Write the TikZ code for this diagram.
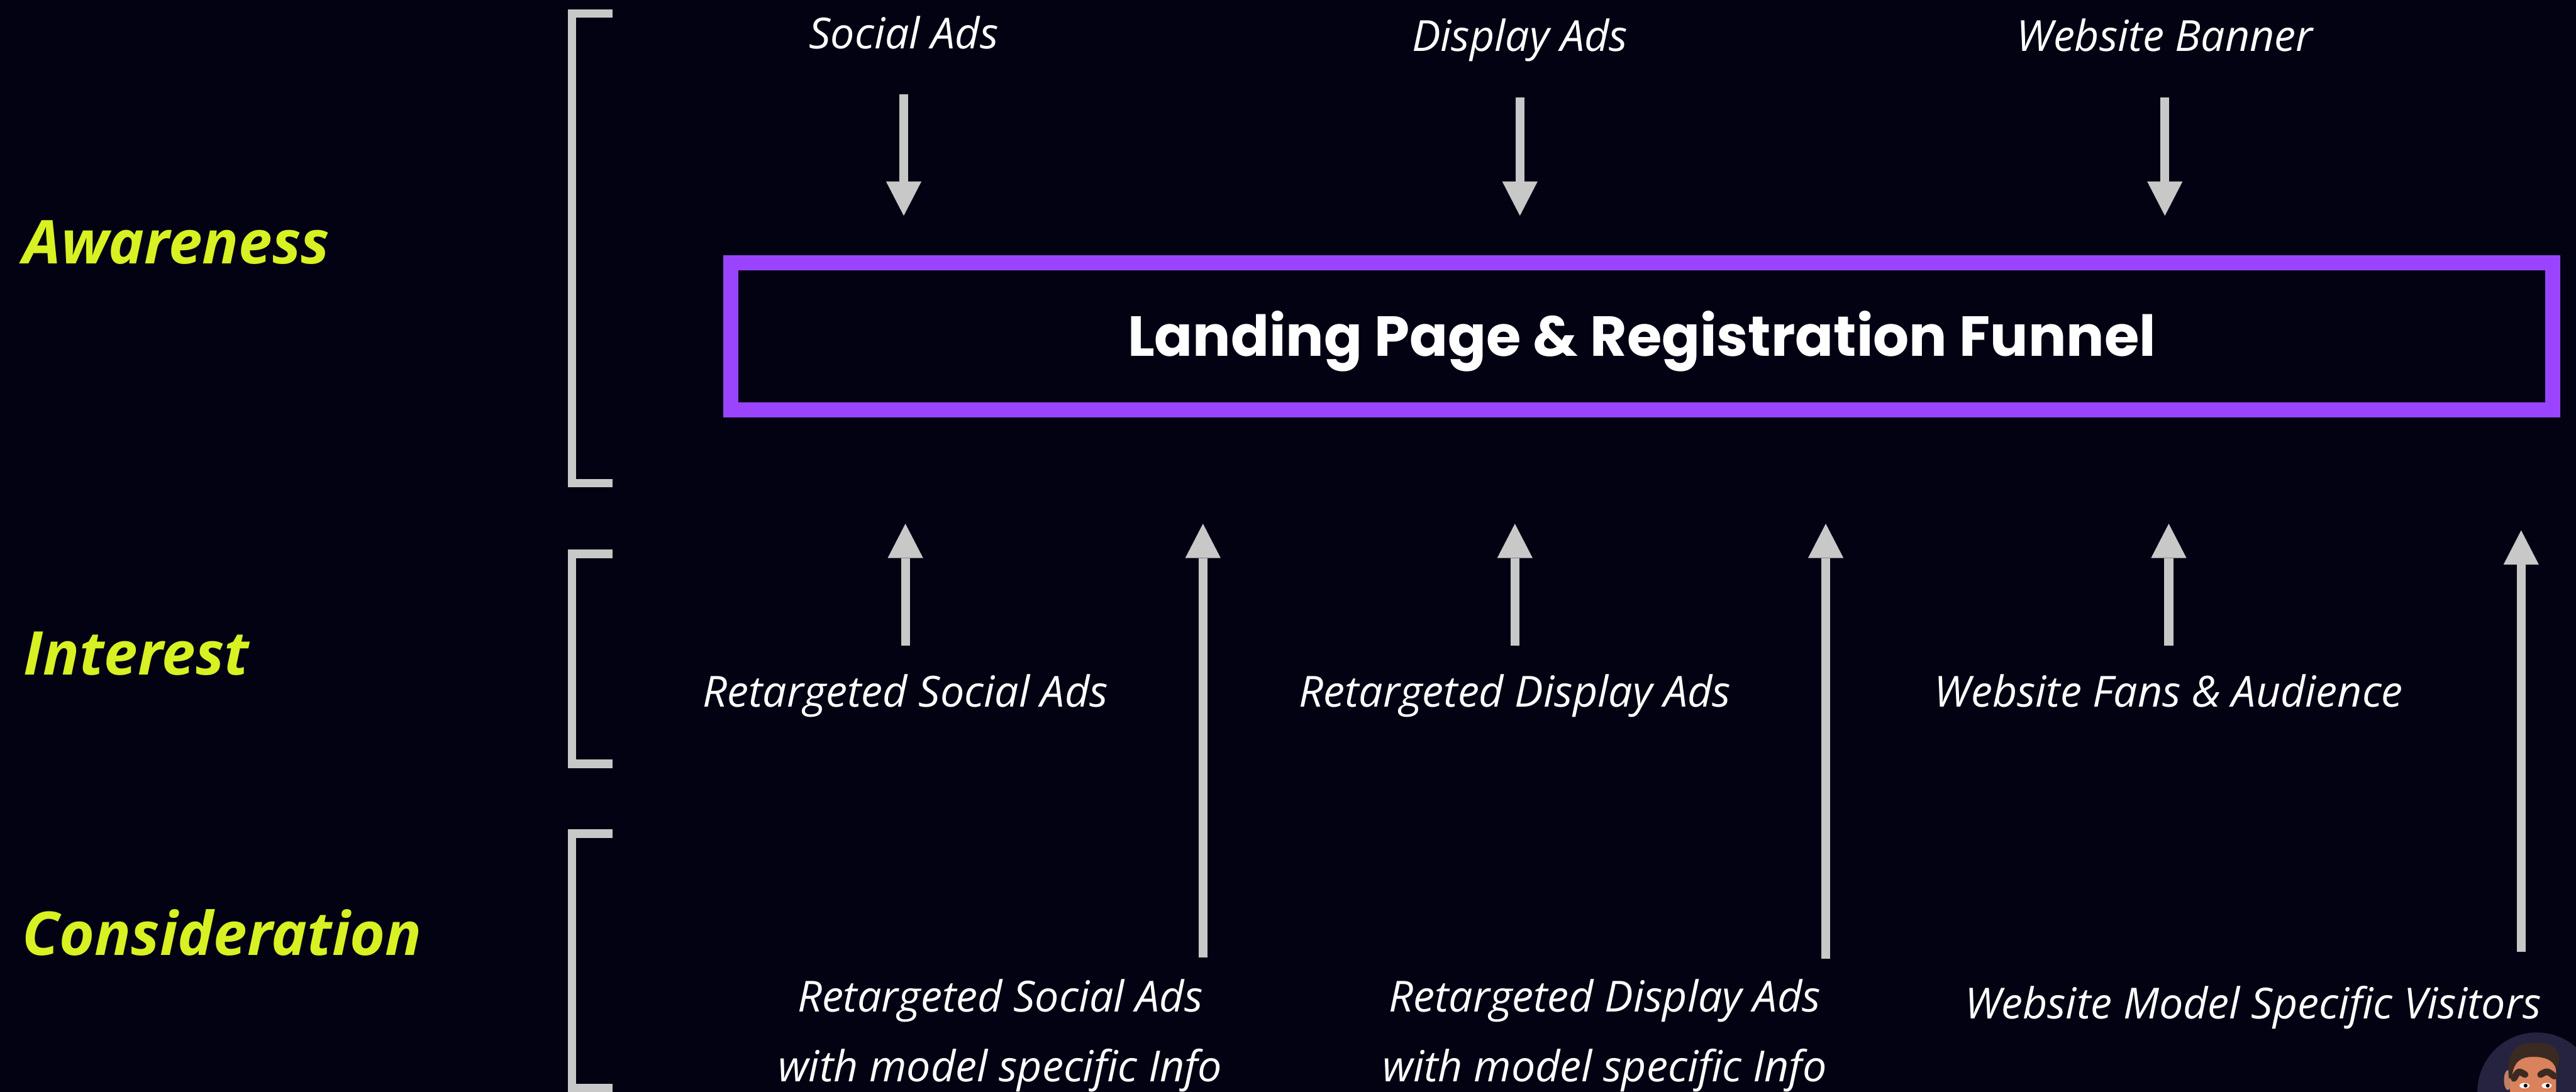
\documentclass[tikz,border=0pt]{standalone}
\usepackage{fontspec}
\setmainfont{Open Sans}
\newfontfamily\titlefont{Poppins}
\usepackage{tikz}
\usetikzlibrary{arrows.meta, positioning}

\definecolor{bgnavy}{HTML}{030213}
\definecolor{stagelime}{HTML}{D7F123}
\definecolor{funnelviolet}{HTML}{9A44FF}
\definecolor{arrowgray}{HTML}{C8C8C8}
\definecolor{avatarbg}{HTML}{25233F}
\definecolor{skin}{HTML}{D9825C}
\definecolor{hair}{HTML}{3B2A22}

\newcommand{\lblfont}{\fontsize{22}{35.8}\selectfont\itshape}
\newcommand{\stagefont}{\fontsize{31}{37}\selectfont\bfseries\itshape}

\begin{document}
\begin{tikzpicture}[>=Latex,
  stage/.style={anchor=base west, inner sep=0pt, text=stagelime, font=\stagefont},
  lbl/.style={anchor=base, inner sep=0pt, text=white, font=\lblfont, text height=5mm, text depth=2mm},
  lbltwo/.style={anchor=base, inner sep=0pt, text=white, font=\lblfont, align=center},
  funnel/.style={draw=funnelviolet, line width=2.7mm, minimum width=32.88cm, minimum height=2.66cm, inner sep=0pt,
    text=white, font=\titlefont\fontsize{29}{34}\selectfont\bfseries, text height=7.1mm, text depth=0mm},
  arr/.style={draw=arrowgray, line width=1.6mm, -{Triangle[width=6.4mm, length=6.2mm, line width=0pt]}},
  bracket/.style={draw=arrowgray, line width=1.5mm}]

  \useasboundingbox (0,0) rectangle (46.49,-19.71);
  \fill[bgnavy] (0,0) rectangle (46.49,-19.71);

  % funnel stages on the left
  \node[stage] (awareness) at (0.41,-4.76) {Awareness};
  \node[stage] (interest) at (0.42,-12.18) {Interest};
  \node[stage] (consideration) at (0.40,-17.25) {Consideration};

  \draw[bracket] (11.05,-0.24) -- (10.32,-0.24) -- (10.32,-8.72) -- (11.05,-8.72);
  \draw[bracket] (11.05,-10.00) -- (10.32,-10.00) -- (10.32,-13.79) -- (11.05,-13.79);
  \draw[bracket] (11.05,-15.05) -- (10.32,-15.05) -- (10.32,-19.64) -- (11.05,-19.64);

  \node[funnel] (lp) at (29.63,-6.07) {Landing Page \& Registration Funnel};

  % traffic sources
  \node[lbl] (social) at (16.31,-0.88) {Social Ads};
  \node[lbl] (display) at (27.43,-0.93) {Display Ads};
  \node[lbl] (banner) at (39.07,-0.93) {Website Banner};

  \node[lbl] (rsocial) at (16.34,-12.76) {Retargeted Social Ads};
  \node[lbl] (rdisplay) at (27.34,-12.76) {Retargeted Display Ads};
  \node[lbl] (fans) at (39.14,-12.76) {Website Fans \& Audience};

  % two-line labels sit on the baseline of their last line
  \node[lbltwo] (rsocialinfo) at (18.05,-19.53) {Retargeted Social Ads\\with model specific Info};
  \node[lbltwo] (rdisplayinfo) at (28.96,-19.53) {Retargeted Display Ads\\with model specific Info};
  \node[lbl] (visitors) at (40.66,-18.39) {Website Model Specific Visitors};

  \coordinate (rsocialtail) at (21.71,-17.29);
  \coordinate (rdisplaytail) at (32.95,-17.31);
  \coordinate (visitorstail) at (45.50,-17.18);

  \draw[arr, shorten <=6.2mm, shorten >=7.1mm] (social.south) -- (social.south |- lp.north);
  \draw[arr, shorten <=6.2mm, shorten >=7.1mm] (display.south) -- (display.south |- lp.north);
  \draw[arr, shorten <=6.2mm, shorten >=7.1mm] (banner.south) -- (banner.south |- lp.north);

  \draw[arr, shorten <=6mm, shorten >=19.2mm] (rsocial.north) -- (rsocial.north |- lp.south);
  \draw[arr, shorten <=6mm, shorten >=19.2mm] (rdisplay.north) -- (rdisplay.north |- lp.south);
  \draw[arr, shorten <=6mm, shorten >=19.2mm] (fans.north) -- (fans.north |- lp.south);

  \draw[arr, shorten >=19.2mm] (rsocialtail) -- (rsocialtail |- lp.south);
  \draw[arr, shorten >=19.2mm] (rdisplaytail) -- (rdisplaytail |- lp.south);
  \draw[arr, shorten >=20.4mm] (visitorstail) -- (visitorstail |- lp.south);

  % avatar in the corner
  \begin{scope}
    \clip (45.78,-19.71) circle (1.07);
    \fill[avatarbg] (45.78,-19.71) circle (1.07);
    \fill[skin!70!gray] (45.26,-19.50) ellipse (0.07 and 0.18);
    \fill[skin, rounded corners=3mm] (45.30,-20.60) rectangle (46.13,-19.05);
    \fill[hair] (45.28,-19.47) .. controls (45.22,-18.95) and (45.45,-18.80) .. (45.75,-18.83)
      .. controls (46.05,-18.80) and (46.22,-18.95) .. (46.18,-19.23)
      -- (46.13,-19.30) .. controls (46.08,-19.12) and (45.90,-19.08) .. (45.72,-19.08)
      .. controls (45.50,-19.08) and (45.36,-19.15) .. (45.33,-19.47) -- cycle;
    \draw[hair, line width=1.2mm, line cap=round] (45.37,-19.47) .. controls (45.45,-19.33) .. (45.57,-19.40);
    \draw[hair, line width=1.2mm, line cap=round] (45.85,-19.40) .. controls (45.97,-19.33) .. (46.10,-19.43);
    \fill[white] (45.56,-19.60) ellipse (0.09 and 0.05);
    \fill[white] (45.96,-19.60) ellipse (0.09 and 0.05);
    \fill[black] (45.58,-19.60) circle (0.035);
    \fill[black] (45.98,-19.60) circle (0.035);
  \end{scope}
\end{tikzpicture}
\end{document}
